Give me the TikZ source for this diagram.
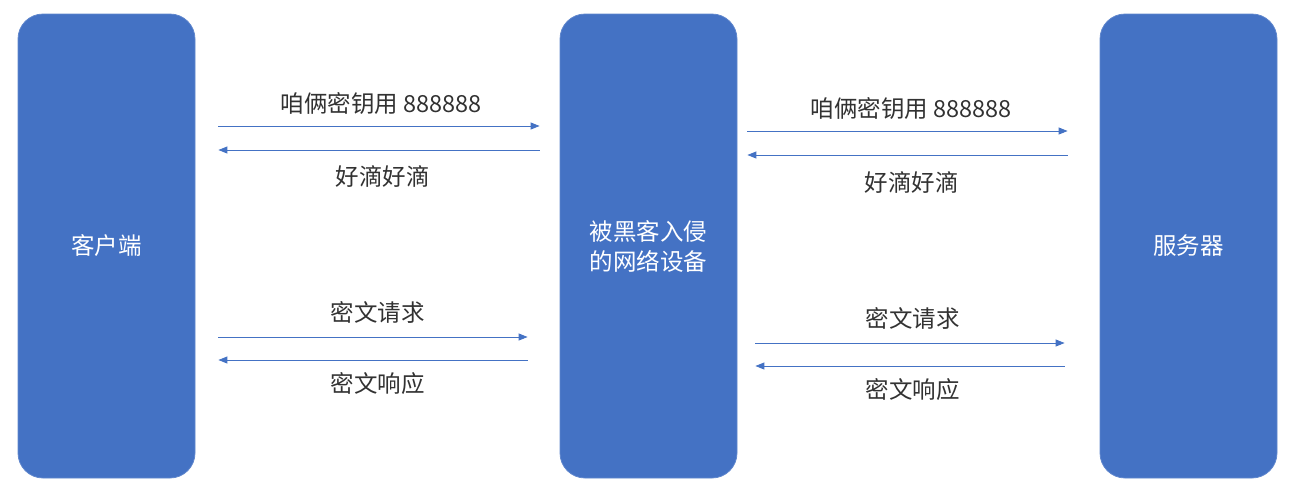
\documentclass[tikz,border=0pt]{standalone}
\usepackage{fontspec}
\newfontfamily\cjk{Noto Sans CJK SC}
\usepackage{tikz}
\usetikzlibrary{arrows.meta,positioning,calc}
\usepackage{xcolor}
\definecolor{boxblue}{RGB}{68,114,196}
\definecolor{linkblue}{RGB}{68,114,196}
\definecolor{labelgray}{RGB}{50,50,50}
\tikzset{
    devbox/.style={rectangle, rounded corners=25pt, fill=boxblue, draw=boxblue!85!white, line width=0.8pt, minimum width=177pt, minimum height=464pt, text=white, font=\cjk\fontsize{23.5}{30}\selectfont, align=center, inner sep=0pt},
    msg/.style={draw=linkblue, line width=0.9pt, -{Triangle[length=9pt, width=7pt]}},
    msglabel/.style={font=\cjk\fontsize{23.5}{28}\selectfont, text=labelgray, inner sep=0pt},
}

\begin{document}
\begin{tikzpicture}[x=1pt, y=-1pt]
    \useasboundingbox (0,0) rectangle (1294,496);

    \node[devbox] (client) at (106.5,246) {客户端};
    \node[devbox] (hacker) at (648.5,246) {被黑客入侵\\的网络设备};
    \node[devbox] (server) at (1188.5,246) {服务器};

    % client <-> hacker
    \draw[msg, shorten <=23pt, shorten >=20pt] (client.east |- 0,126) -- (hacker.west |- 0,126)
        node[msglabel, midway, yshift=22pt, xshift=4pt] (keyA) {咱俩密钥用 888888};
    \draw[msg, shorten <=20pt, shorten >=23pt] (hacker.west |- 0,150) -- (client.east |- 0,150)
        node[msglabel, midway, yshift=-26pt, xshift=5pt] (okA) {好滴好滴};
    \draw[msg, shorten <=23pt, shorten >=32pt] (client.east |- 0,337) -- (hacker.west |- 0,337)
        node[msglabel, midway, yshift=25pt] (reqA) {密文请求};
    \draw[msg, shorten <=32pt, shorten >=23pt] (hacker.west |- 0,360) -- (client.east |- 0,360)
        node[msglabel, midway, yshift=-24pt] (resA) {密文响应};

    % hacker <-> server
    \draw[msg, shorten <=10pt, shorten >=32pt] (hacker.east |- 0,131) -- (server.west |- 0,131)
        node[msglabel, midway, yshift=22pt, xshift=-7pt] (keyB) {咱俩密钥用 888888};
    \draw[msg, shorten <=32pt, shorten >=10pt] (server.west |- 0,155) -- (hacker.east |- 0,155)
        node[msglabel, midway, yshift=-27pt, xshift=-7pt] (okB) {好滴好滴};
    \draw[msg, shorten <=18pt, shorten >=35pt] (hacker.east |- 0,343) -- (server.west |- 0,343)
        node[msglabel, midway, yshift=25pt, xshift=-6pt] (reqB) {密文请求};
    \draw[msg, shorten <=35pt, shorten >=18pt] (server.west |- 0,366) -- (hacker.east |- 0,366)
        node[msglabel, midway, yshift=-24pt, xshift=-6pt] (resB) {密文响应};
\end{tikzpicture}
\end{document}
